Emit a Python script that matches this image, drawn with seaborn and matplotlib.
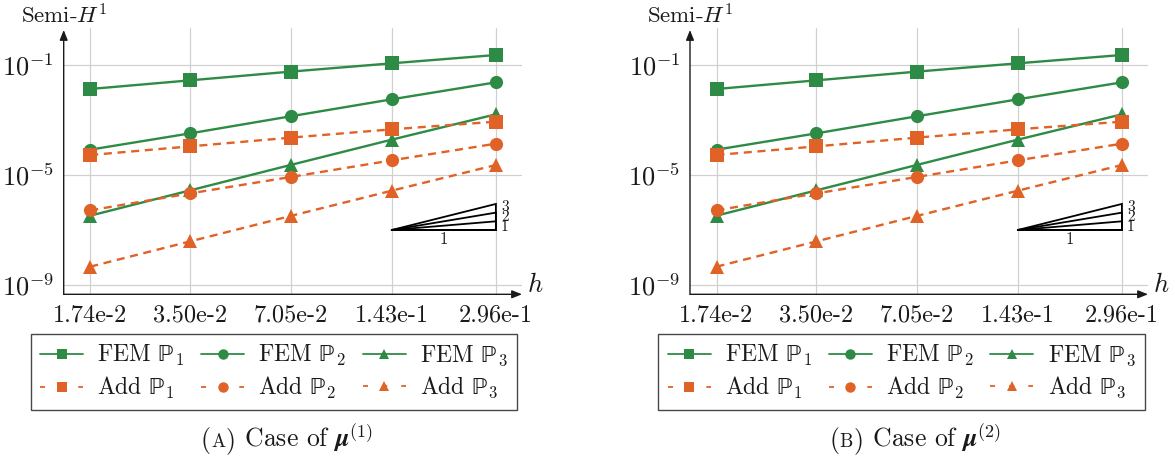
import numpy as np
import pandas as pd
import matplotlib
matplotlib.use("Agg")
import matplotlib.pyplot as plt
import seaborn as sns
from matplotlib.lines import Line2D

# ---------------- data ----------------
h_values = [1.74e-2, 3.50e-2, 7.05e-2, 1.43e-1, 2.96e-1]
h_labels = ["1.74e-2", "3.50e-2", "7.05e-2", "1.43e-1", "2.96e-1"]

fem_p1 = [1.34e-2, 2.77e-2, 5.73e-2, 1.15e-1, 2.31e-1]
fem_p2 = [8.34e-5, 3.27e-4, 1.36e-3, 5.65e-3, 2.34e-2]
fem_p3 = [3.32e-7, 2.77e-6, 2.31e-5, 1.93e-4, 1.61e-3]
add_p1 = [5.33e-5, 1.10e-4, 2.28e-4, 4.58e-4, 8.69e-4]
add_p2 = [5.19e-7, 2.15e-6, 8.45e-6, 3.41e-5, 1.38e-4]
add_p3 = [4.64e-9, 3.87e-8, 3.23e-7, 2.69e-6, 2.31e-5]

y_ticks = [1e-9, 1e-5, 1e-1]
y_tick_labels = [r"$10^{-9}$", r"$10^{-5}$", r"$10^{-1}$"]

slope_orders = [1, 2, 3]
slope_base_x = [1.43e-1, 2.96e-1]
slope_base_y = 1e-7

caption_tags = ["A", "B"]
caption_mu = [r"$\boldsymbol{\mu}^{(1)}$", r"$\boldsymbol{\mu}^{(2)}$"]

series = [
    ("FEM", 1, fem_p1), ("FEM", 2, fem_p2), ("FEM", 3, fem_p3),
    ("Add", 1, add_p1), ("Add", 2, add_p2), ("Add", 3, add_p3),
]

# ---------------- style ----------------
sns.set_theme(style="white")
plt.rcParams["font.family"] = ["cmr10", "DejaVu Serif"]
plt.rcParams["mathtext.fontset"] = "cm"
plt.rcParams["axes.unicode_minus"] = False

GREEN = "#2e8b45"
ORANGE = "#e06226"
TXT = "#1a1a1a"
markers = {1: "s", 2: "o", 3: "^"}

fig = plt.figure(figsize=(11.75, 4.59), dpi=100)
renderer = fig.canvas.get_renderer()

W, H = 1175, 459
axes_px = [(63.7, 522.0), (690.0, 1148.0)]
ax_top, ax_bot = 28.0, 294.3
legend_px = [(29, 519), (655.7, 1147.3)]
caption_x = [287, 915]
slope_label_offsets = {1: -4.0, 2: -3.2, 3: -2.2}

for i, (x0, x1) in enumerate(axes_px):
    ax = fig.add_axes([x0 / W, 1 - ax_bot / H, (x1 - x0) / W, (ax_bot - ax_top) / H])
    ax.set_xscale("log")
    ax.set_yscale("log")

    for kind, p, vals in series:
        df = pd.DataFrame({"h": h_values, "err": vals})
        color = GREEN if kind == "FEM" else ORANGE
        ls = "-" if kind == "FEM" else (0, (3.4, 2.4))
        sns.lineplot(data=df, x="h", y="err", ax=ax, color=color, linestyle=ls,
                     linewidth=1.7, marker=markers[p],
                     markersize=9.5 if p != 3 else 10.5,
                     markeredgewidth=0, zorder=3, legend=False)

    ax.set_xlim(10 ** -1.8399, 10 ** -0.4495)
    ax.set_ylim(10 ** -9.338, 10 ** 0.345)

    ax.set_xticks(h_values)
    ax.set_xticklabels(h_labels, fontsize=17.5)
    ax.xaxis.set_minor_locator(matplotlib.ticker.NullLocator())
    ax.set_yticks(y_ticks)
    ax.set_yticklabels(y_tick_labels, fontsize=19)
    ax.yaxis.set_minor_locator(matplotlib.ticker.NullLocator())
    ax.tick_params(axis="both", which="major", direction="inout", length=8,
                   width=0.8, color="#9a9a9a", pad=3, labelcolor=TXT)
    ax.grid(True, which="major", color="#d0d0d0", linewidth=0.9)
    ax.set_xlabel("")
    ax.set_ylabel("")

    for side in ["top", "right", "left", "bottom"]:
        ax.spines[side].set_visible(False)
    # axis lines with arrows
    ax.annotate("", xy=(1.0, 0), xytext=(0, 0), xycoords="axes fraction",
                arrowprops=dict(arrowstyle="-|>,head_length=0.5,head_width=0.2",
                                color=TXT, lw=1.0, shrinkA=0, shrinkB=0),
                annotation_clip=False)
    ax.annotate("", xy=(0, 1.0 - 2 / (ax_bot - ax_top)), xytext=(0, 0), xycoords="axes fraction",
                arrowprops=dict(arrowstyle="-|>,head_length=0.5,head_width=0.2",
                                color=TXT, lw=1.0, shrinkA=0, shrinkB=0),
                annotation_clip=False)

    ax.text(0.0, 1.0 + 13 / (ax_bot - ax_top), r"Semi-$H^1$", transform=ax.transAxes,
            ha="center", va="center", fontsize=16.5, color=TXT)
    ax.text(1.0 + 13 / (x1 - x0), 0.0 + 9 / (ax_bot - ax_top), r"$h$", transform=ax.transAxes,
            ha="center", va="center", fontsize=19, color=TXT)

    # slope triangles
    bx0, bx1 = slope_base_x
    for k in slope_orders:
        ytop = slope_base_y * (bx1 / bx0) ** k
        ax.plot([bx0, bx1, bx1, bx0], [slope_base_y, slope_base_y, ytop, slope_base_y],
                color="black", lw=1.3, zorder=4, solid_joinstyle="miter")
        ax.annotate(str(k), xy=(bx1, ytop), xytext=(6.5, slope_label_offsets[k]),
                    textcoords="offset points",
                    ha="center", va="center", fontsize=11, color=TXT)
    ax.annotate("1", xy=(np.sqrt(bx0 * bx1), slope_base_y), xytext=(0, -7),
                textcoords="offset points", ha="center", va="center",
                fontsize=12, color=TXT)

    # legend
    handles, labels = [], []
    for p in [1, 2, 3]:
        for kind in ["FEM", "Add"]:
            color = GREEN if kind == "FEM" else ORANGE
            ls = "-" if kind == "FEM" else (0, (2.8, 7.8))
            handles.append(Line2D([], [], color=color, linestyle=ls, linewidth=1.3,
                                  marker=markers[p], markersize=7.5, markeredgewidth=0))
            labels.append(f"{kind} " + r"$\mathrm{\mathbb{P}}_" + str(p) + "$")
    lx0, lx1 = legend_px[i]
    leg = ax.legend(handles, labels, ncol=3, loc="center",
                    bbox_to_anchor=((lx0 + lx1) / 2 / W, 1 - 372 / H),
                    bbox_transform=fig.transFigure, fontsize=17,
                    frameon=True, fancybox=False, edgecolor=TXT,
                    handlelength=1.82, handletextpad=0.6, columnspacing=0.72,
                    labelspacing=0.28, borderpad=0.4)
    leg.get_frame().set_linewidth(1.0)
    for t in leg.get_texts():
        t.set_color(TXT)

    # caption "(A) Case of mu" with small-caps tag
    cy = 1 - 447 / H
    parts = [("(", 18.5), (caption_tags[i], 13.5), (")", 18.5),
             (" Case of " + caption_mu[i], 18.5)]
    texts = []
    for s, fs in parts:
        t = fig.text(0, cy, s, ha="left", va="baseline", fontsize=fs, color=TXT)
        texts.append(t)
    widths = [t.get_window_extent(renderer).width for t in texts]
    total = sum(widths) + 1.0
    xstart = caption_x[i] - total / 2
    xcur = xstart
    for t, w in zip(texts, widths):
        t.set_x(xcur / W)
        xcur += w + (0.5 if t is texts[1] or t is texts[0] else 0)

fig.savefig("out.png", dpi=100)
